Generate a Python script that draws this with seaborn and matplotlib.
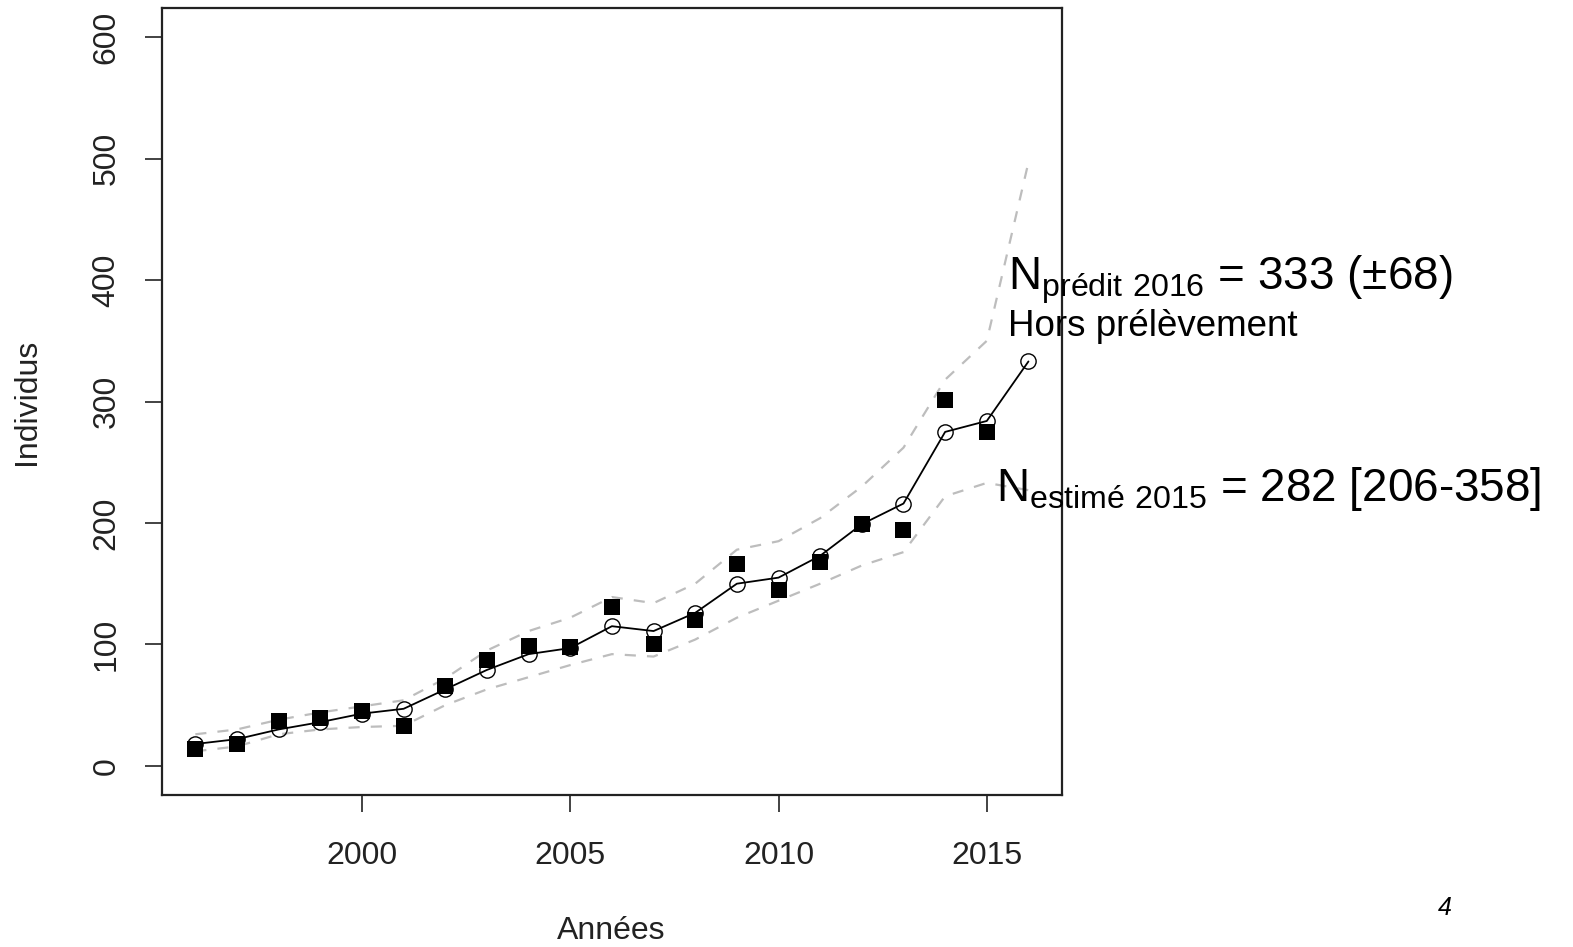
import matplotlib
matplotlib.use("Agg")
import matplotlib.pyplot as plt
import seaborn as sns
import numpy as np
import pandas as pd

# Data
years = list(range(1996, 2017))
estimated = [18, 22, 30, 36, 43, 47, 63, 79, 92, 97, 115, 111, 126, 150, 155, 173, 199, 216, 275, 284, 333]
obs_years = list(range(1996, 2016))
observed = [14, 18, 37, 39, 45, 33, 66, 87, 99, 98, 131, 100, 120, 166, 145, 168, 199, 194, 301, 275]
upper = [26, 30, 38, 44, 49, 54, 72, 95, 111, 122, 139, 134, 150, 178, 185, 204, 230, 262, 318, 350, 497]
lower = [12, 16, 26, 30, 32, 33, 50, 63, 73, 83, 92, 90, 104, 122, 136, 150, 165, 176, 222, 233, 227]

x_ticks = [2000, 2005, 2010, 2015]
y_ticks = [0, 100, 200, 300, 400, 500, 600]

df = pd.DataFrame({"annee": years, "estime": estimated, "haut": upper, "bas": lower})
df_obs = pd.DataFrame({"annee": obs_years, "observe": observed})

sns.set_theme(style="white")
plt.rcParams['font.family'] = ['Liberation Sans', 'DejaVu Sans']
plt.rcParams['mathtext.default'] = 'regular'

fig = plt.figure(figsize=(15.73, 9.47), dpi=100)
ax = fig.add_axes([0.103, 0.1605, 0.572, 0.831])

band_col = "#bdbdbd"
sns.lineplot(data=df, x="annee", y="haut", ax=ax, color=band_col, linewidth=1.6,
             linestyle=(0, (5, 5)))
sns.lineplot(data=df, x="annee", y="bas", ax=ax, color=band_col, linewidth=1.6,
             linestyle=(0, (5, 5)))

sns.scatterplot(data=df_obs, x="annee", y="observe", ax=ax, marker="s", s=120,
                color="black", edgecolor="black", linewidth=0, zorder=3)

sns.lineplot(data=df, x="annee", y="estime", ax=ax, color="black", linewidth=1.3,
             marker="o", markersize=11, markerfacecolor="none",
             markeredgecolor="black", markeredgewidth=1.0, zorder=4)

ax.set_xlim(1995.2, 2016.8)
ax.set_ylim(-24, 624)
ax.set_xticks(x_ticks)
ax.set_yticks(y_ticks)
ax.set_yticklabels([str(v) for v in y_ticks], rotation=90, va="center")

for s in ax.spines.values():
    s.set_color("#222222")
    s.set_linewidth(1.6)
ax.tick_params(axis="both", direction="out", length=12, width=1.2, color="#222222",
               labelsize=23, labelcolor="#222222", left=True, bottom=True)
ax.tick_params(axis="x", pad=21)
ax.tick_params(axis="y", pad=17)

ax.set_xlabel("Années", fontsize=23, color="#222222")
ax.set_ylabel("Individus", fontsize=23, color="#222222")
ax.xaxis.set_label_coords(0.499, -0.154)
ax.yaxis.set_label_coords(-0.133, 0.5)

ax.text(2015.52, 392, r"N$_{prédit\ 2016}$ = 333 (±68)", fontsize=33,
        color="black", va="baseline", ha="left", clip_on=False)
ax.text(2015.52, 354, "Hors prélèvement", fontsize=26.5,
        color="black", va="baseline", ha="left", clip_on=False)
ax.text(2015.21, 218, r"N$_{estimé\ 2015}$ = 282 [206-358]", fontsize=33,
        color="black", va="baseline", ha="left", clip_on=False)

fig.text(1445 / 1573, 1 - 908 / 947, "4", fontsize=18, style="italic",
         color="black", ha="center", va="center")

fig.savefig("out.png", dpi=100)
